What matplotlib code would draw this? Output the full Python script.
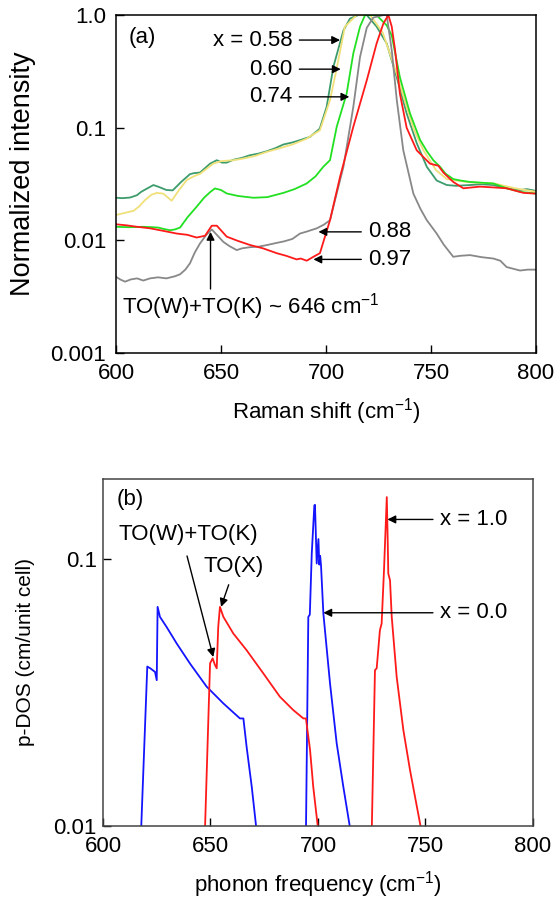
import matplotlib
matplotlib.use("Agg")
import matplotlib.pyplot as plt

plt.rcParams['font.family'] = ['Liberation Sans', 'DejaVu Sans']
plt.rcParams['mathtext.fontset'] = 'custom'
plt.rcParams['mathtext.rm'] = 'Liberation Sans'
plt.rcParams['mathtext.it'] = 'Liberation Sans:italic'

# --- (a) Raman spectra, normalized ---
raman_058 = [600, 603, 606.7, 610, 612, 615, 617.8, 620, 622, 624, 627, 631, 635.2, 637,
             640, 642.5, 644.8, 648, 650.5, 652.7, 656, 660, 663.8, 668, 672, 676, 679.7,
             684, 688, 692.4, 697, 700.3, 703.5, 708.3, 711.4, 715.4, 719.4, 724.1, 728.9,
             733.7, 738.4, 743.2, 748, 752.7, 757.5, 762, 768.6, 774, 779.7, 786, 792.4,
             795.6, 800]
int_058 = [0.0239, 0.0237, 0.024, 0.0252, 0.027, 0.029, 0.031, 0.030, 0.029, 0.028, 0.0278,
           0.033, 0.0387, 0.0395, 0.040, 0.044, 0.048, 0.0515, 0.049, 0.049, 0.052, 0.054,
           0.057, 0.059, 0.062, 0.066, 0.071, 0.074, 0.078, 0.083, 0.098, 0.153, 0.347, 0.73,
           0.93, 1.0, 1.0, 0.79, 0.56, 0.28, 0.134, 0.073, 0.045, 0.034, 0.031, 0.0305, 0.031,
           0.0315, 0.031, 0.029, 0.028, 0.0285, 0.0275]

raman_060 = [600, 604, 608.3, 611, 614, 617, 619.4, 622.5, 626.5, 630, 633.7, 637, 640, 643,
             646.3, 650, 655.9, 660, 666, 671.7, 677, 684, 690.8, 697.1, 701.9, 705, 709,
             714.6, 721, 727, 733.7, 738.4, 742, 746.4, 752.4, 757.5, 762, 766.7, 773, 780,
             790, 800]
int_060 = [0.0168, 0.0175, 0.0183, 0.020, 0.023, 0.0255, 0.0264, 0.026, 0.0225, 0.028,
           0.0343, 0.037, 0.039, 0.043, 0.048, 0.0505, 0.0515, 0.053, 0.056, 0.061, 0.065,
           0.071, 0.080, 0.095, 0.176, 0.33, 0.79, 1.0, 1.0, 0.7, 0.3, 0.153, 0.095, 0.063,
           0.042, 0.035, 0.034, 0.033, 0.0325, 0.032, 0.029, 0.027]

raman_074 = [600, 606, 613, 617, 620, 623, 625.7, 628, 630.5, 634, 638.4, 642, 645, 647.1,
             650, 652.7, 658, 665.4, 672, 679.7, 685, 690.8, 695, 698.7, 701.9, 705.1, 709.8,
             713, 716.2, 718.6, 724, 728.9, 731.3, 735.2, 740, 744.8, 748, 751.1, 754.3, 757,
             760.6, 764, 768.6, 774, 779.7, 786, 792.4, 800]
int_074 = [0.0132, 0.0131, 0.0132, 0.0131, 0.013, 0.0126, 0.0123, 0.0125, 0.013, 0.016,
           0.0199, 0.024, 0.027, 0.0289, 0.028, 0.0261, 0.0248, 0.0239, 0.0242, 0.0264,
           0.0285, 0.032, 0.037, 0.045, 0.0515, 0.102, 0.2, 0.457, 0.79, 1.0, 1.0, 0.81,
           0.66, 0.28, 0.134, 0.078, 0.062, 0.0515, 0.045, 0.039, 0.035, 0.034, 0.033,
           0.0325, 0.032, 0.029, 0.027, 0.026]

raman_088 = [600, 602, 604.3, 607, 610, 613, 616.2, 620, 624, 628, 630.5, 633, 635.2, 637.5,
             640, 643, 645.6, 648, 651.1, 654, 657.5, 660, 663.8, 668, 672, 676.5, 680, 684,
             687.6, 691, 695.6, 699, 701.9, 703.5, 708.3, 713, 716.2, 719.4, 722.5, 727.3,
             728.9, 731.3, 733.7, 736.8, 741.6, 745, 748, 752.7, 756, 760.6, 764, 768.6, 774,
             779.7, 783, 786, 792.4, 796, 800]
int_088 = [0.00475, 0.0045, 0.0043, 0.0045, 0.0046, 0.0044, 0.0046, 0.0047, 0.0046, 0.0048,
           0.005, 0.0055, 0.00625, 0.0078, 0.0094, 0.0112, 0.0125, 0.0112, 0.0097, 0.0089,
           0.0082, 0.0085, 0.0087, 0.0088, 0.0091, 0.0095, 0.0098, 0.0103, 0.0115, 0.012,
           0.0128, 0.0138, 0.0151, 0.0199, 0.045, 0.153, 0.425, 0.77, 0.95, 1.0, 1.0, 0.487,
           0.176, 0.063, 0.026, 0.019, 0.0151, 0.0115, 0.0092, 0.00715, 0.0073, 0.0074,
           0.0071, 0.0069, 0.0066, 0.0058, 0.0054, 0.0055, 0.0055]

raman_097 = [600, 605, 610, 616.2, 622, 628.9, 634, 638.4, 642.4, 645.6, 648, 652.7, 658,
             663.8, 670, 676.5, 681, 686, 688, 690.8, 694, 697.1, 701.9, 706.7, 713, 719.4,
             724.1, 727.3, 729.7, 731.3, 732.9, 735.2, 738.4, 743.2, 749.5, 753.5, 755.9,
             760.6, 765.4, 773.3, 780, 786, 794, 800]
int_097 = [0.0139, 0.0136, 0.0132, 0.0128, 0.0122, 0.0115, 0.0112, 0.0106, 0.0110, 0.0135,
           0.0135, 0.0108, 0.0099, 0.0091, 0.0085, 0.0077, 0.0073, 0.00678, 0.0069, 0.0066,
           0.00715, 0.0077, 0.0151, 0.0367, 0.102, 0.263, 0.56, 0.84, 1.0, 0.79, 0.487, 0.2,
           0.1, 0.063, 0.048, 0.046, 0.040, 0.033, 0.029, 0.030, 0.0295, 0.029, 0.0264, 0.026]

# --- (b) phonon DOS, two branches for each end member ---
freq_x0_low = [617.7, 620.6, 622, 624.2, 625.0, 625.4, 626.5, 629.6, 634.3, 640.5, 648.2,
               656, 663.7, 665.3, 666.8, 669.2, 671.5]
dos_x0_low = [0.0095, 0.0396, 0.039, 0.0378, 0.0352, 0.0663, 0.0608, 0.0557, 0.0483, 0.0406,
              0.0333, 0.0288, 0.0253, 0.0253, 0.0198, 0.014, 0.0095]
freq_x0_high = [694.4, 695.5, 696.2, 697.1, 698.3, 698.6, 699.4, 700.2, 700.6, 701.0, 701.4,
                702.5, 705.6, 708.7, 711.8, 715.2]
dos_x0_high = [0.0095, 0.0608, 0.062, 0.105, 0.159, 0.16, 0.0964, 0.119, 0.0955, 0.103, 0.095,
               0.0626, 0.0342, 0.0204, 0.014, 0.0095]

freq_x1_low = [647.4, 649.8, 651.0, 652.1, 652.9, 653.6, 654.4, 656, 660.6, 666.8, 674.6,
               682.3, 688.5, 693.2, 694.4, 696.3, 697.8, 700.2]
dos_x1_low = [0.0095, 0.0407, 0.0425, 0.0401, 0.039, 0.0557, 0.0663, 0.0608, 0.0527, 0.0456,
              0.0373, 0.0305, 0.0272, 0.0253, 0.0253, 0.0193, 0.014, 0.0095]
freq_x1_high = [725, 726.5, 727.3, 728.8, 729.6, 730.7, 732.0, 732.4, 732.7, 733.5, 734.3,
                736.6, 739.7, 742.8, 748.2]
dos_x1_high = [0.0095, 0.0384, 0.0390, 0.0542, 0.0574, 0.091, 0.171, 0.121, 0.0884, 0.0834,
               0.0608, 0.0362, 0.0229, 0.0162, 0.0095]

FS = 16
arrow = dict(arrowstyle='-|>', color='black', lw=1, mutation_scale=12, shrinkA=3, shrinkB=0)


def style_axes(ax, spine_color, ypad):
    ax.tick_params(direction='in', length=6, width=1, labelsize=FS, top=False, right=False)
    ax.tick_params(axis='x', pad=7)
    ax.tick_params(axis='y', pad=ypad)
    ax.minorticks_off()
    for s in ax.spines.values():
        s.set_color(spine_color)
        s.set_linewidth(1.1)


fig = plt.figure(figsize=(5.57, 9.02), dpi=100)

# --- panel (a) ---
ax1 = fig.add_axes([0.2083, 0.6086, 0.754, 0.3747])
ax1.plot(raman_058, int_058, color='#3c9c6c', lw=1.3)
ax1.plot(raman_060, int_060, color='#f0e07a', lw=1.3)
ax1.plot(raman_074, int_074, color='#22e022', lw=1.3)
ax1.plot(raman_088, int_088, color='#888888', lw=1.3)
ax1.plot(raman_097, int_097, color='#ff1a1a', lw=1.3)
ax1.set_yscale('log')
ax1.set_xlim(600, 800)
ax1.set_ylim(0.001, 1.0)
ax1.set_xticks([600, 650, 700, 750, 800])
ax1.set_yticks([0.001, 0.01, 0.1, 1.0])
ax1.set_yticklabels(['0.001', '0.01', '0.1', '1.0'])
style_axes(ax1, 'black', 7)
ax1.set_xlabel('Raman shift (cm$^{-1}$)', fontsize=FS, labelpad=9)
ax1.set_ylabel('Normalized intensity', fontsize=19.5)
ax1.yaxis.set_label_coords(-0.19, 0.53)
ax1.text(0.03, 0.935, '(a)', transform=ax1.transAxes, fontsize=FS, va='center')

ax1.annotate('x = 0.58', xy=(706.7, 0.6), xytext=(684, 0.6), fontsize=FS,
             ha='right', va='center', arrowprops=arrow)
ax1.annotate('0.60', xy=(707, 0.331), xytext=(684, 0.331), fontsize=FS,
             ha='right', va='center', arrowprops=arrow)
ax1.annotate('0.74', xy=(711.1, 0.188), xytext=(684, 0.188), fontsize=FS,
             ha='right', va='center', arrowprops=arrow)
ax1.annotate('0.88', xy=(696.4, 0.0119), xytext=(720.1, 0.0119), fontsize=FS,
             ha='left', va='center', arrowprops=arrow)
ax1.annotate('0.97', xy=(694, 0.00678), xytext=(720.1, 0.00678), fontsize=FS,
             ha='left', va='center', arrowprops=arrow)
ax1.annotate('', xy=(645, 0.0119), xytext=(645, 0.0034), arrowprops=arrow)
ax1.text(603, 0.00258, 'TO(W)+TO(K) ~ 646 cm$^{-1}$', fontsize=FS, ha='left', va='center')

# --- panel (b) ---
ax2 = fig.add_axes([0.1849, 0.0843, 0.772, 0.3847])
ax2.plot(freq_x0_low, dos_x0_low, color='#1414ff', lw=1.3)
ax2.plot(freq_x0_high, dos_x0_high, color='#1414ff', lw=1.3)
ax2.plot(freq_x1_low, dos_x1_low, color='#ff1a1a', lw=1.3)
ax2.plot(freq_x1_high, dos_x1_high, color='#ff1a1a', lw=1.3)
ax2.set_yscale('log')
ax2.set_xlim(600, 800)
ax2.set_ylim(0.01, 0.2)
ax2.set_xticks([600, 650, 700, 750, 800])
ax2.set_yticks([0.01, 0.1])
ax2.set_yticklabels(['0.01', '0.1'])
style_axes(ax2, '#444444', 4.5)
ax2.set_xlabel('phonon frequency (cm$^{-1}$)', fontsize=FS, labelpad=9)
ax2.set_ylabel('p-DOS (cm/unit cell)', fontsize=15, labelpad=13)
ax2.text(0.032, 0.941, '(b)', transform=ax2.transAxes, fontsize=FS, va='center')

ax2.annotate('x = 1.0', xy=(732.3, 0.141), xytext=(756.7, 0.141), fontsize=FS,
             ha='left', va='center', arrowprops=arrow)
ax2.annotate('x = 0.0', xy=(702.5, 0.063), xytext=(756.7, 0.063), fontsize=FS,
             ha='left', va='center', arrowprops=arrow)
ax2.text(607, 0.124, 'TO(W)+TO(K)', fontsize=FS, ha='left', va='center')
ax2.annotate('', xy=(651.3, 0.043), xytext=(638.6, 0.1065), arrowprops=arrow)
ax2.text(660.6, 0.0936, 'TO(X)', fontsize=FS, ha='center', va='center')
ax2.annotate('', xy=(654.9, 0.0663), xytext=(659.1, 0.083), arrowprops=arrow)

fig.savefig('out.png', dpi=100)
